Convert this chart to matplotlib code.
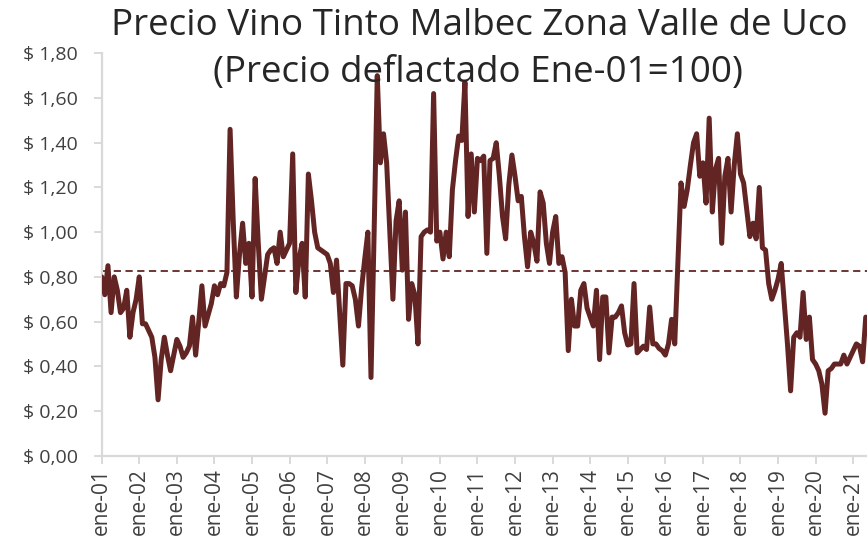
import matplotlib
matplotlib.use("Agg")
import matplotlib.pyplot as plt
from matplotlib.ticker import FuncFormatter, FixedLocator
import numpy as np

plt.rcParams['font.family'] = ['Open Sans', 'DejaVu Sans']

title_1 = "Precio Vino Tinto Malbec Zona Valle de Uco"
title_2 = "(Precio deflactado Ene-01=100)"

precio = [
    0.80, 0.72, 0.85, 0.64, 0.80, 0.74, 0.64, 0.66, 0.74, 0.53, 0.64, 0.70,   # 2001
    0.80, 0.59, 0.59, 0.56, 0.53, 0.44, 0.25, 0.43, 0.53, 0.45, 0.38, 0.45,   # 2002
    0.52, 0.49, 0.44, 0.46, 0.49, 0.62, 0.45, 0.60, 0.76, 0.58, 0.63, 0.68,   # 2003
    0.76, 0.72, 0.77, 0.76, 0.82, 1.46, 1.05, 0.71, 0.90, 1.04, 0.86, 0.95,   # 2004
    0.71, 1.24, 0.95, 0.70, 0.80, 0.90, 0.92, 0.93, 0.86, 1.00, 0.89, 0.92,   # 2005
    0.95, 1.35, 0.73, 0.88, 0.95, 0.71, 1.26, 1.14, 1.00, 0.93, 0.92, 0.91,   # 2006
    0.90, 0.86, 0.73, 0.875, 0.64, 0.405, 0.77, 0.77, 0.76, 0.70, 0.58, 0.75, # 2007
    0.88, 1.00, 0.35, 1.00, 1.70, 1.31, 1.44, 1.31, 1.00, 0.70, 1.05, 1.14,   # 2008
    0.83, 1.09, 0.61, 0.77, 0.72, 0.50, 0.98, 1.00, 1.01, 1.00, 1.62, 0.96,   # 2009
    1.00, 0.88, 1.00, 0.89, 1.19, 1.32, 1.43, 1.41, 1.67, 1.07, 1.35, 1.09,   # 2010
    1.33, 1.32, 1.34, 0.905, 1.32, 1.33, 1.40, 1.25, 1.07, 0.97, 1.21, 1.345, # 2011
    1.25, 1.14, 1.16, 0.98, 0.845, 1.00, 0.95, 0.87, 1.18, 1.13, 0.95, 0.86,  # 2012
    1.00, 1.07, 0.86, 0.89, 0.82, 0.47, 0.70, 0.58, 0.58, 0.74, 0.77, 0.66,   # 2013
    0.62, 0.58, 0.74, 0.43, 0.71, 0.71, 0.46, 0.62, 0.62, 0.64, 0.67, 0.55,   # 2014
    0.495, 0.50, 0.77, 0.46, 0.475, 0.49, 0.475, 0.665, 0.50, 0.50, 0.48, 0.47, # 2015
    0.45, 0.50, 0.61, 0.50, 0.86, 1.22, 1.115, 1.19, 1.30, 1.40, 1.44, 1.25,  # 2016
    1.31, 1.13, 1.51, 1.09, 1.28, 1.33, 0.95, 1.25, 1.33, 1.09, 1.30, 1.44,   # 2017
    1.26, 1.22, 1.10, 0.98, 1.04, 0.97, 1.20, 0.93, 0.92, 0.77, 0.70, 0.74,   # 2018
    0.79, 0.86, 0.68, 0.50, 0.29, 0.53, 0.55, 0.53, 0.73, 0.52, 0.62, 0.43,   # 2019
    0.41, 0.38, 0.32, 0.19, 0.38, 0.39, 0.41, 0.41, 0.41, 0.45, 0.41, 0.44,   # 2020
    0.47, 0.50, 0.49, 0.42, 0.62,                                             # 2021
]
promedio = 0.825

tick_labels = ["ene-%02d" % y for y in range(1, 22)]
tick_months = [12 * i for i in range(len(tick_labels))]
y_ticks = [0.0, 0.2, 0.4, 0.6, 0.8, 1.0, 1.2, 1.4, 1.6, 1.8]

line_color = "#632523"
grid_gray = "#d9d9d9"
text_gray = "#404040"

fig = plt.figure(figsize=(8.67, 5.51), dpi=100)
ax = fig.add_axes([101.7 / 867, 95.3 / 551, 1 - 101.7 / 867, (497.7 - 95.3) / 551])

x = np.arange(len(precio))
ax.plot(x, precio, color=line_color, lw=3.6, solid_joinstyle='round', solid_capstyle='round', zorder=3)
ax.axhline(promedio, color=line_color, lw=1.3, ls=(0, (4, 2.5)), zorder=2)

ax.set_xlim(0, 244.4)
ax.set_ylim(0, 1.8)

ax.yaxis.set_major_locator(FixedLocator(y_ticks))
ax.yaxis.set_major_formatter(FuncFormatter(lambda v, p: "$ " + ("%.2f" % v).replace(".", ",")))
ax.set_xticks(tick_months)
ax.set_xticklabels(tick_labels, rotation=90)

for s in ["top", "right"]:
    ax.spines[s].set_visible(False)
for s in ["left", "bottom"]:
    ax.spines[s].set_color(grid_gray)
    ax.spines[s].set_linewidth(1.6)

ax.tick_params(axis="both", colors=grid_gray, length=6, width=1.4, direction="out")
ax.tick_params(axis="y", labelsize=14, labelcolor=text_gray, pad=11)
ax.tick_params(axis="x", labelsize=15, labelcolor=text_gray, pad=3)

fig.text(479 / 867, 1 - 26 / 551, title_1, ha="center", va="center", fontsize=26.5, color="#262626")
fig.text(478 / 867, 1 - 73 / 551, title_2, ha="center", va="center", fontsize=26.5, color="#262626")

fig.savefig("out.png", dpi=100)
